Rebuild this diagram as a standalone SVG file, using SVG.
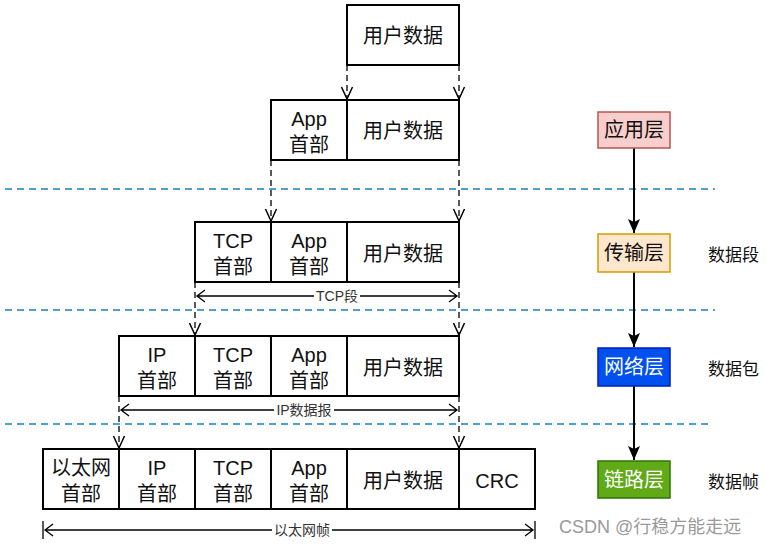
<svg xmlns="http://www.w3.org/2000/svg" width="767" height="546" viewBox="0 0 767 546">
<defs>
<style>
text{font-family:"Liberation Sans","Noto Sans CJK SC",sans-serif;text-anchor:middle;dominant-baseline:central}
.b{fill:#fff;stroke:#000;stroke-width:2}
.t{font-size:20px;fill:#111}
.d{stroke:#000;stroke-width:1.3;stroke-dasharray:6 4;fill:none}
.sep{stroke:#1a7fc1;stroke-width:1.5;stroke-dasharray:7 5;fill:none}
.dim{stroke:#000;stroke-width:1.3;fill:none}
.la{stroke:#000;stroke-width:2;fill:none}
.dl{font-size:14px;fill:#333}
.lay{font-size:20px}
.side{font-size:17px;fill:#111;text-anchor:start}
</style>
<marker id="op" viewBox="0 0 14 14" refX="13" refY="7" markerWidth="14" markerHeight="14" markerUnits="userSpaceOnUse" orient="auto">
<path d="M1 1.5 L13 7 L1 12.5" fill="none" stroke="#000" stroke-width="1.5"/>
</marker>
<marker id="fa" viewBox="0 0 16 14" refX="15" refY="7" markerWidth="16" markerHeight="14" markerUnits="userSpaceOnUse" orient="auto">
<path d="M1 1 L15 7 L1 13 L4 7 Z" fill="#000"/>
</marker>
</defs>
<rect width="767" height="546" fill="#fff"/>

<g id="separators">
<line class="sep" x1="5" y1="189" x2="715" y2="189"/>
<line class="sep" x1="5" y1="310" x2="715" y2="310"/>
<line class="sep" x1="5" y1="424" x2="708" y2="424"/>
</g>

<g id="connectors">
<path class="d" d="M347 65 V99" marker-end="url(#op)"/>
<path class="d" d="M459 65 V99" marker-end="url(#op)"/>
<path class="d" d="M271 160 V221" marker-end="url(#op)"/>
<path class="d" d="M459 160 V221" marker-end="url(#op)"/>
<path class="d" d="M195 282 V335" marker-end="url(#op)"/>
<path class="d" d="M459 282 V335" marker-end="url(#op)"/>
<path class="d" d="M119 396 V448" marker-end="url(#op)"/>
<path class="d" d="M459 396 V448" marker-end="url(#op)"/>
<path class="la" d="M634 148 V233" marker-end="url(#fa)"/>
<path class="la" d="M634 272 V347" marker-end="url(#fa)"/>
<path class="la" d="M634 386 V460" marker-end="url(#fa)"/>
</g>

<g id="row1">
<rect class="b" x="347" y="5" width="112" height="60"/>
<text class="t" x="403" y="36">用户数据</text>
</g>

<g id="row2">
<rect class="b" x="271" y="100" width="76" height="60"/>
<rect class="b" x="347" y="100" width="112" height="60"/>
<text class="t" x="309" y="119">App</text>
<text class="t" x="309" y="145">首部</text>
<text class="t" x="403" y="131">用户数据</text>
</g>

<g id="row3">
<rect class="b" x="195" y="222" width="76" height="60"/>
<rect class="b" x="271" y="222" width="76" height="60"/>
<rect class="b" x="347" y="222" width="112" height="60"/>
<text class="t" x="233" y="241">TCP</text>
<text class="t" x="233" y="267">首部</text>
<text class="t" x="309" y="241">App</text>
<text class="t" x="309" y="267">首部</text>
<text class="t" x="403" y="254">用户数据</text>
</g>

<g id="row4">
<rect class="b" x="119" y="336" width="76" height="60"/>
<rect class="b" x="195" y="336" width="76" height="60"/>
<rect class="b" x="271" y="336" width="76" height="60"/>
<rect class="b" x="347" y="336" width="112" height="60"/>
<text class="t" x="157" y="355">IP</text>
<text class="t" x="157" y="381">首部</text>
<text class="t" x="233" y="355">TCP</text>
<text class="t" x="233" y="381">首部</text>
<text class="t" x="309" y="355">App</text>
<text class="t" x="309" y="381">首部</text>
<text class="t" x="403" y="368">用户数据</text>
</g>

<g id="row5">
<rect class="b" x="43" y="449" width="76" height="60"/>
<rect class="b" x="119" y="449" width="76" height="60"/>
<rect class="b" x="195" y="449" width="76" height="60"/>
<rect class="b" x="271" y="449" width="76" height="60"/>
<rect class="b" x="347" y="449" width="112" height="60"/>
<rect class="b" x="459" y="449" width="76" height="60"/>
<text class="t" x="81" y="468">以太网</text>
<text class="t" x="81" y="494">首部</text>
<text class="t" x="157" y="468">IP</text>
<text class="t" x="157" y="494">首部</text>
<text class="t" x="233" y="468">TCP</text>
<text class="t" x="233" y="494">首部</text>
<text class="t" x="309" y="468">App</text>
<text class="t" x="309" y="494">首部</text>
<text class="t" x="403" y="481">用户数据</text>
<text class="t" x="497" y="481">CRC</text>
</g>

<g id="dim-tcp">
<path class="dim" d="M205 290 L197 296 L205 302 M197 296 H457 M449 290 L457 296 L449 302"/>
<rect x="314" y="288" width="46" height="16" fill="#fff"/>
<text class="dl" x="337" y="296">TCP段</text>
</g>
<g id="dim-ip">
<path class="dim" d="M129 404 L121 410 L129 416 M121 410 H457 M449 404 L457 410 L449 416"/>
<rect x="274" y="402" width="60" height="16" fill="#fff"/>
<text class="dl" x="304" y="410">IP数据报</text>
</g>
<g id="dim-eth">
<path class="dim" d="M43 521 V539 M535 521 V539 M53 524 L45 530 L53 536 M45 530 H533 M525 524 L533 530 L525 536"/>
<rect x="272" y="522" width="60" height="16" fill="#fff"/>
<text class="dl" x="302" y="530">以太网帧</text>
</g>

<g id="app-layer">
<rect x="598" y="112" width="72" height="36" fill="#f8cecc" stroke="#b85450" stroke-width="1.5"/>
<text class="lay" x="634" y="130" fill="#111">应用层</text>
</g>
<g id="transport-layer">
<rect x="598" y="234" width="72" height="38" fill="#ffe6cc" stroke="#d79b00" stroke-width="1.5"/>
<text class="lay" x="634" y="253" fill="#111">传输层</text>
</g>
<g id="network-layer">
<rect x="598" y="348" width="72" height="38" fill="#0050ef" stroke="#001dbc" stroke-width="1.5"/>
<text class="lay" x="634" y="367" fill="#fff">网络层</text>
</g>
<g id="link-layer">
<rect x="598" y="461" width="72" height="37" fill="#60a917" stroke="#2d7600" stroke-width="1.5"/>
<text class="lay" x="634" y="480" fill="#fff">链路层</text>
</g>

<g id="side-labels">
<text class="side" x="708" y="255">数据段</text>
<text class="side" x="708" y="369">数据包</text>
<text class="side" x="708" y="482">数据帧</text>
</g>
<text x="559" y="527" style="font-size:18px;fill:#9a9a9a;text-anchor:start">CSDN @行稳方能走远</text>
</svg>
